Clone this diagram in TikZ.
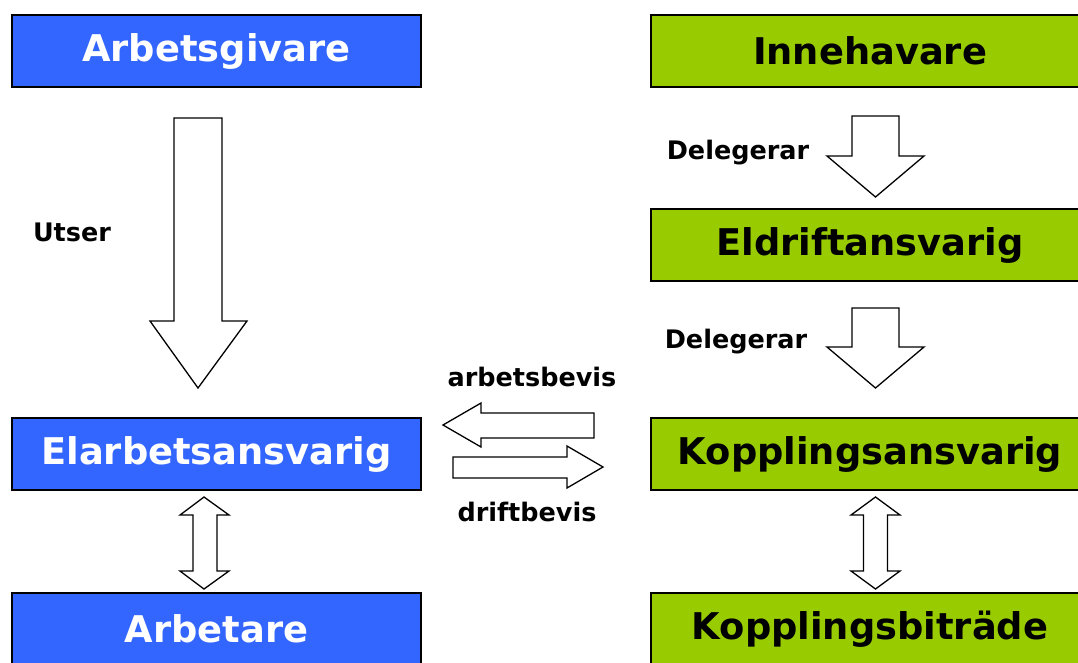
\documentclass[tikz,border=0pt]{standalone}
\usepackage{fontspec}
\setmainfont{DejaVu Sans}
\definecolor{boxblue}{HTML}{3366FF}
\definecolor{boxgreen}{HTML}{99CC00}
\begin{document}
\begin{tikzpicture}[x=1pt,y=-1pt,
  box/.style={draw=black,line width=1.6pt,minimum width=409pt,minimum height=72pt,inner sep=0pt,font=\fontsize{36.8}{40}\selectfont\bfseries},
  bluebox/.style={box,fill=boxblue,text=white},
  greenbox/.style={box,fill=boxgreen,text=black,minimum width=438pt},
  lbl/.style={font=\fontsize{25.5}{28}\selectfont\bfseries,inner sep=0pt},
  blk/.style={draw=black,line width=1.3pt,fill=white,line join=miter}]
\clip (0,0) rectangle (1078,662);
\fill[white] (0,0) rectangle (1078,662);
% left column
\node[bluebox] (ag) at (216.5,51) {Arbetsgivare};
\node[bluebox] (ea) at (216.5,454) {Elarbetsansvarig};
\node[bluebox] (ar) at (216.5,629) {Arbetare};
% right column
\node[greenbox] (ih) at (870,51) {Innehavare};
\node[greenbox] (ed) at (870,245) {Eldriftansvarig};
\node[greenbox] (ka) at (870,454) {Kopplingsansvarig};
\node[greenbox] (kb) at (870,629) {Kopplingsbiträde};
% big arrow Utser
\draw[blk] (174,118) -- (222,118) -- (222,321) -- (247,321) -- (198,388) -- (150,321) -- (174,321) -- cycle;
\node[lbl] (ut) at (72,232) {Utser};
% Delegerar arrows
\draw[blk] (852,116) -- (899,116) -- (899,156) -- (924,156) -- (875.5,197) -- (827,156) -- (852,156) -- cycle;
\node[lbl] (d1) at (738,153) {Delegerar};
\draw[blk] (852,308) -- (899,308) -- (899,347) -- (924,347) -- (875.5,388) -- (827,347) -- (852,347) -- cycle;
\node[lbl] (d2) at (736,342) {Delegerar};
% horizontal arrows
\draw[blk] (594,413) -- (481,413) -- (481,403) -- (443,425) -- (481,447) -- (481,438) -- (594,438) -- cycle;
\node[lbl] (ab) at (532,377) {arbetsbevis};
\draw[blk] (453,457) -- (567,457) -- (567,446) -- (603,467) -- (567,488) -- (567,478) -- (453,478) -- cycle;
\node[lbl] (db) at (527,512) {driftbevis};
% double arrows
\draw[blk] (204,497) -- (229,515) -- (217,515) -- (217,571) -- (229,571) -- (204,589) -- (180,571) -- (193,571) -- (193,515) -- (180,515) -- cycle;
\draw[blk] (875.5,497) -- (900,515) -- (887.5,515) -- (887.5,571) -- (900,571) -- (875.5,589) -- (851,571) -- (863.5,571) -- (863.5,515) -- (851,515) -- cycle;
\end{tikzpicture}
\end{document}
